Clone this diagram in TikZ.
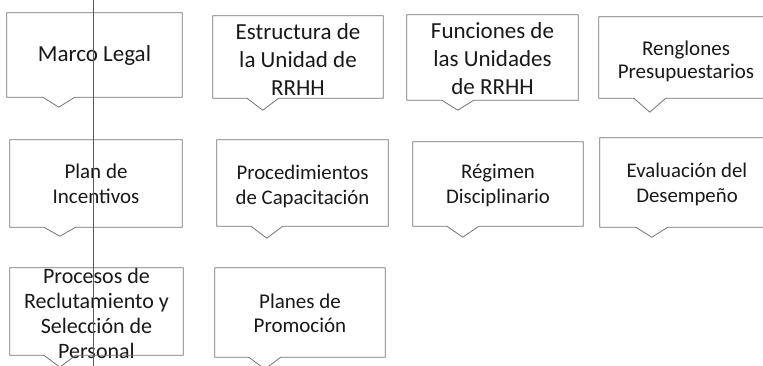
\documentclass[tikz,border=0pt]{standalone}
\usepackage{fontspec}
\setmainfont{Carlito}
\usetikzlibrary{calc}
\newcommand\fs[2]{\fontsize{#1}{#2}\selectfont}
\newcommand\outl[3]{%
  \draw[boxline] (#1.north west) -- (#1.north east) -- (#1.south east)
    -- ($(#1.south west)+(#2+16,0)$) -- ($(#1.south west)+(#2,#3)$)
    -- ($(#1.south west)+(#2-16,0)$) -- (#1.south west) -- cycle;}
\tikzset{
  frame/.style={rectangle, inner sep=0pt},
  txt/.style={inner sep=0pt, align=center, text=black!90},
  boxline/.style={draw=black!55, line width=0.8pt, line join=miter},
  guide/.style={draw=black!65, line width=0.5pt}
}
\begin{document}
\begin{tikzpicture}[x=1pt,y=-1pt]
\useasboundingbox (0,0) rectangle (763,366);
\fill[white] (0,0) rectangle (763,366);
\clip (0,0) rectangle (763,366);
% frames
\node[frame, minimum width=175pt, minimum height=84pt] (marco) at (94.5,55) {};
\node[frame, minimum width=170pt, minimum height=82pt] (estr) at (298,57) {};
\node[frame, minimum width=171pt, minimum height=85pt] (func) at (492.5,57.5) {};
\node[frame, minimum width=174pt, minimum height=81pt] (reng) at (686,57.5) {};
\node[frame, minimum width=172pt, minimum height=87pt] (plan) at (96,183.5) {};
\node[frame, minimum width=171pt, minimum height=86pt] (proc) at (302.5,183) {};
\node[frame, minimum width=170pt, minimum height=84pt] (regi) at (498,184) {};
\node[frame, minimum width=174pt, minimum height=89pt] (eval) at (687,182.5) {};
\node[frame, minimum width=173pt, minimum height=87pt] (recl) at (96.5,311.5) {};
\node[frame, minimum width=170pt, minimum height=89pt] (prom) at (300,312.5) {};
% texts
\node[txt, font=\fs{23}{28}] (marcoT) at ($(marco)+(0,0)$) {Marco Legal};
\node[txt, font=\fs{23}{28}] (estrT) at ($(estr)+(0,3)$) {Estructura de\\la Unidad de\\RRHH};
\node[txt, font=\fs{23}{28}] (funcT) at ($(func)+(0,1)$) {Funciones de\\las Unidades\\de RRHH};
\node[txt, font=\fs{21}{23.5}] (rengT) at ($(reng)+(0,4)$) {Renglones\\Presupuestarios};
\node[txt, font=\fs{21}{25}] (planT) at ($(plan)+(0,0)$) {Plan de\\Incentivos};
\node[txt, font=\fs{20.8}{25}] (procT) at ($(proc)+(0,3)$) {Procedimientos\\de Capacitación};
\node[txt, font=\fs{20.8}{25}] (regiT) at ($(regi)+(0,2)$) {Régimen\\Disciplinario};
\node[txt, font=\fs{20.8}{25}] (evalT) at ($(eval)+(0,2)$) {Evaluación del\\Desempeño};
\node[txt, font=\fs{22}{25}] (reclT) at ($(recl)+(0,2)$) {Procesos de\\Reclutamiento y\\Selección de\\Personal};
\node[txt, font=\fs{21}{24}] (promT) at ($(prom)+(0,1)$) {Planes de\\Promoción};
% outlines
\outl{marco}{52}{10}
\outl{estr}{50}{12}
\outl{func}{51}{10}
\outl{reng}{51}{14}
\outl{plan}{50}{9}
\outl{proc}{50}{12}
\outl{regi}{50}{11}
\outl{eval}{52}{10}
\outl{recl}{50}{12}
\outl{prom}{50}{12}
% vertical guide line
\coordinate (gtop) at (93,0);
\coordinate (gbot) at (93,366);
\draw[guide] (gtop) -- (gbot);
\end{tikzpicture}
\end{document}
